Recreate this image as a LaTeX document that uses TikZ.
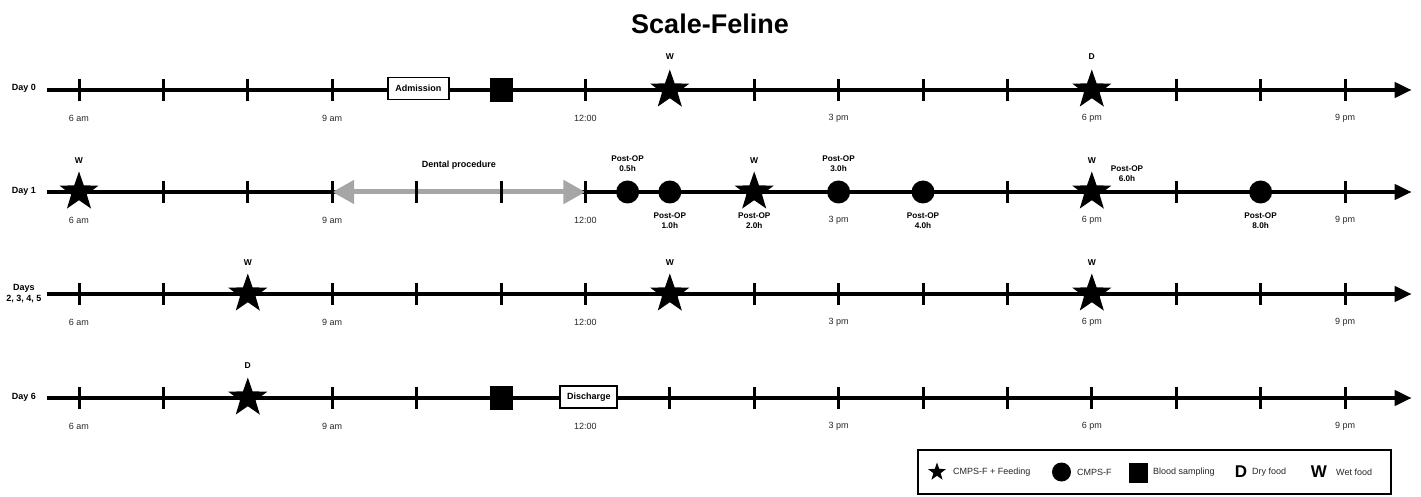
\documentclass[tikz,border=0pt]{standalone}
\usepackage{fontspec}
\setmainfont{Liberation Sans}
\usetikzlibrary{shapes.geometric,arrows.meta}

\tikzset{
  hours/.style={x=84.4pt,xshift=79pt},
  axis/.style={line width=4pt,-{Triangle[length=17pt,width=15pt]}},
  hourtick/.style={line width=3pt},
  dental/.style={line width=5pt,draw={rgb,255:red,166;green,166;blue,166},
    {Triangle[length=22pt,width=23pt]}-{Triangle[length=22pt,width=23pt]}},
  feed/.style={star,star points=5,star point ratio=2.5,minimum size=41pt,
    inner sep=0pt,fill=black},
  cmps/.style={circle,minimum size=23pt,inner sep=0pt,fill=black},
  blood/.style={rectangle,minimum width=23pt,minimum height=24pt,inner sep=0pt,fill=black},
  eventbox/.style={draw,line width=1.8pt,fill=white,minimum height=22pt,inner sep=2pt,
    font=\fontsize{9}{10}\selectfont\bfseries},
  timelbl/.style={font=\fontsize{9}{10}\selectfont,text=black!85},
  daylbl/.style={font=\fontsize{9}{11}\selectfont\bfseries,align=center},
  foodlbl/.style={font=\fontsize{8.5}{10}\selectfont\bfseries},
  oplbl/.style={font=\fontsize{8.2}{10}\selectfont\bfseries,align=center},
  legtxt/.style={font=\fontsize{9}{10}\selectfont,anchor=west,inner sep=0pt,text=black!85},
}

\begin{document}
\begin{tikzpicture}[x=1pt,y=-1pt]
\useasboundingbox (0,0) rectangle (1421,497);

% title
\node[font=\fontsize{27}{30}\selectfont\bfseries] (title) at (710,24) {Scale-Feline};

\begin{scope}[hours]
% ---------- Day 0 ----------
\coordinate (r0s) at (-0.379,90);
\coordinate (r0e) at (15.79,90);
\draw[axis] (r0s) -- (r0e);
\foreach \k in {0,1,2,3,6,8,9,10,11,13,14,15}
  \draw[hourtick] (\k,79) -- (\k,101);
\node[eventbox,minimum width=61pt] (adm) at (4.02,88.5) {Admission};
\node[blood] (bs0) at (5,90) {};
\node[feed] (f01) at (7,90) {};
\node[foodlbl] (f01l) at (7,57) {W};
\node[feed] (f02) at (12,90) {};
\node[foodlbl] (f02l) at (12,57) {D};
\node[daylbl] (day0) at (-0.652,88) {Day 0};

% ---------- Day 1 ----------
\coordinate (r1s) at (-0.379,192);
\coordinate (r1e) at (15.79,192);
\draw[axis] (r1s) -- (r1e);
\coordinate (dstart) at (3,192);
\coordinate (dend) at (6,192);
\draw[dental] (dstart) -- (dend);
\foreach \k in {1,2,3,4,5,6,11,13,15}
  \draw[hourtick] (\k,181) -- (\k,203);
\node[oplbl,font=\fontsize{9}{10}\selectfont\bfseries] (dentl) at (4.5,165) {Dental procedure};
\node[feed] (f11) at (0,192) {};
\node[foodlbl] (f11l) at (0,161) {W};
\node[cmps] (c05) at (6.5,192) {};
\node[oplbl] (c05l) at (6.5,164) {Post-OP\\0.5h};
\node[cmps] (c10) at (7,192) {};
\node[oplbl] (c10l) at (7,221) {Post-OP\\1.0h};
\node[feed] (f12) at (8,192) {};
\node[foodlbl] (f12l) at (8,161) {W};
\node[oplbl] (f12o) at (8,221) {Post-OP\\2.0h};
\node[cmps] (c30) at (9,192) {};
\node[oplbl] (c30l) at (9,164) {Post-OP\\3.0h};
\node[cmps] (c40) at (10,192) {};
\node[oplbl] (c40l) at (10,221) {Post-OP\\4.0h};
\node[feed] (f13) at (12,192) {};
\node[foodlbl] (f13l) at (12,161) {W};
\node[oplbl] (f13o) at (12.417,174) {Post-OP\\6.0h};
\node[cmps] (c80) at (14,192) {};
\node[oplbl] (c80l) at (14,221) {Post-OP\\8.0h};
\node[daylbl] (day1) at (-0.652,191) {Day 1};

% ---------- Days 2-5 ----------
\coordinate (r2s) at (-0.379,294);
\coordinate (r2e) at (15.79,294);
\draw[axis] (r2s) -- (r2e);
\foreach \k in {0,1,3,4,5,6,8,9,10,11,13,14,15}
  \draw[hourtick] (\k,283) -- (\k,305);
\foreach \k/\n in {2/a,7/b,12/c}{
  \node[feed] (f2\n) at (\k,294) {};
  \node[foodlbl] (f2\n l) at (\k,263) {W};
}
\node[daylbl] (day2) at (-0.652,294) {Days\\2, 3, 4, 5};

% ---------- Day 6 ----------
\coordinate (r3s) at (-0.379,398);
\coordinate (r3e) at (15.79,398);
\draw[axis] (r3s) -- (r3e);
\foreach \k in {0,1,3,4,7,8,9,10,11,12,13,14,15}
  \draw[hourtick] (\k,387) -- (\k,409);
\node[feed] (f31) at (2,398) {};
\node[foodlbl] (f31l) at (2,366) {D};
\node[blood] (bs3) at (5,398) {};
\node[eventbox,minimum width=57pt] (dis) at (6.04,397) {Discharge};
\node[daylbl] (day6) at (-0.652,397) {Day 6};

% ---------- clock labels ----------
\foreach \y in {118,220,322,426}{
  \foreach \k/\t in {0/6 am,3/9 am,6/12:00,9/3 pm,12/6 pm,15/9 pm}
    \node[timelbl] at (\k,\y) {\t};
}
\end{scope}

% ---------- legend ----------
\node[draw,line width=2.5pt,minimum width=473pt,minimum height=44pt,inner sep=0pt]
  (legend) at (1154.5,472) {};
\node[feed,minimum size=19pt] (lstar) at (937,472) {};
\node[legtxt] (lstart) at (953,472) {CMPS-F + Feeding};
\node[cmps,minimum size=19pt] (lcirc) at (1061.5,472) {};
\node[legtxt] (lcirct) at (1077,472) {CMPS-F};
\node[blood,minimum width=19pt,minimum height=20pt] (lsq) at (1138,473) {};
\node[legtxt] (lsqt) at (1153,472) {Blood sampling};
\node[font=\fontsize{17}{18}\selectfont\bfseries] (ld) at (1241,472) {D};
\node[legtxt] (ldt) at (1252,472) {Dry food};
\node[font=\fontsize{17}{18}\selectfont\bfseries] (lw) at (1319,472) {W};
\node[legtxt] (lwt) at (1336,472) {Wet food};
\end{tikzpicture}
\end{document}
